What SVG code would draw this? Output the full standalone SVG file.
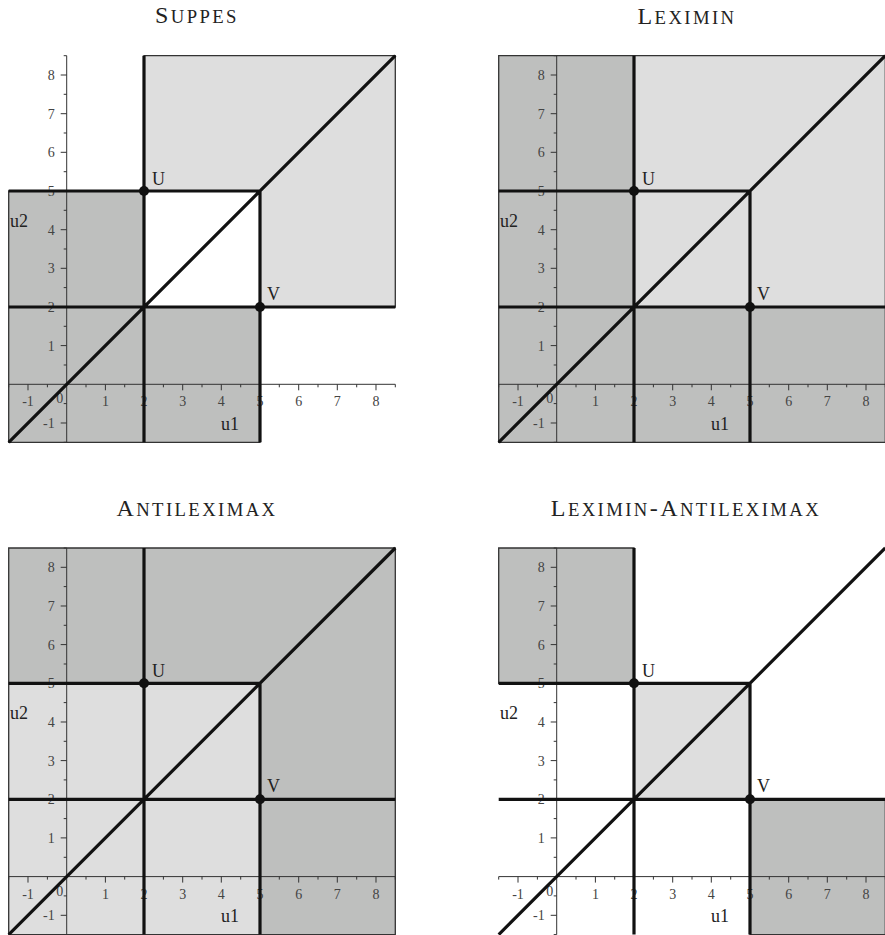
<svg xmlns="http://www.w3.org/2000/svg" width="885" height="935" viewBox="0 0 885 935">
<style>
.title{font-family:"Liberation Serif","Times New Roman",serif;font-size:24px;fill:#222;letter-spacing:2.4px;text-anchor:middle}
.sc{font-size:18.7px}
.dark{fill:#bebfbe;stroke:#333;stroke-width:1.3}
.light{fill:#dedede;stroke:#333;stroke-width:1.3}
.axis{fill:none;stroke:#333;stroke-width:1}
.thick{fill:none;stroke:#111;stroke-width:3.2}
.tk{font-family:"Liberation Serif","Times New Roman",serif;font-size:14px;fill:#444}
.tx{text-anchor:middle}
.ty{text-anchor:end}
.lbl{font-family:"Liberation Serif","Times New Roman",serif;font-size:18px;fill:#222}
.pt{fill:#111}
</style>
<rect width="885" height="935" fill="#fff"/>

<text class="title" x="197" y="23">S<tspan class="sc">UPPES</tspan></text>
<text class="title" x="687" y="24">L<tspan class="sc">EXIMIN</tspan></text>
<text class="title" x="197" y="516">A<tspan class="sc">NTILEXIMAX</tspan></text>
<text class="title" x="686" y="516">L<tspan class="sc">EXIMIN</tspan>-A<tspan class="sc">NTILEXIMAX</tspan></text>

<!-- Panel A: Suppes -->
<g id="suppes" transform="translate(66.7,384.3)">
  <g id="suppes-regions">
    <path class="light" d="M77.3,-328.6H328.6V-77.3H193.3V-193.3H77.3Z"/>
    <path class="dark" d="M-58,-193.3H77.3V-77.3H193.3V58H-58Z"/>
  </g>
  <g id="suppes-axes">
    <path class="axis" d="M-58,0H328.6M0,-328.6V58"/>
    <path class="axis" d="M-58,0v3M-38.7,0v6M-19.3,0v3M19.3,0v3M38.7,0v6M58,0v3M77.3,0v6M96.7,0v3M116,0v6M135.3,0v3M154.6,0v6M174,0v3M193.3,0v6M212.6,0v3M232,0v6M251.3,0v3M270.6,0v6M290,0v3M309.3,0v6M328.6,0v3"/>
    <path class="axis" d="M0,58h-3M0,38.7h-6M0,19.3h-3M0,-19.3h-3M0,-38.7h-6M0,-58h-3M0,-77.3h-6M0,-96.7h-3M0,-116h-6M0,-135.3h-3M0,-154.6h-6M0,-174h-3M0,-193.3h-6M0,-212.6h-3M0,-232h-6M0,-251.3h-3M0,-270.6h-6M0,-290h-3M0,-309.3h-6M0,-328.6h-3"/>
    <g class="tk tx">
      <text x="-38.7" y="22">-1</text><text x="-7" y="19">0</text><text x="38.7" y="22">1</text><text x="77.3" y="22">2</text><text x="116" y="22">3</text><text x="154.6" y="22">4</text><text x="193.3" y="22">5</text><text x="232" y="22">6</text><text x="270.6" y="22">7</text><text x="309.3" y="22">8</text>
    </g>
    <g class="tk ty">
      <text x="-12" y="43.7">-1</text><text x="-12" y="-33.7">1</text><text x="-12" y="-72.3">2</text><text x="-12" y="-111">3</text><text x="-12" y="-149.6">4</text><text x="-12" y="-188.3">5</text><text x="-12" y="-227">6</text><text x="-12" y="-265.6">7</text><text x="-12" y="-304.3">8</text>
    </g>
  </g>
  <g id="suppes-lines">
    <path class="thick" d="M77.3,-328.6V58M193.3,-193.3V58M-58,-193.3H193.3M-58,-77.3H328.6M-58,58L328.6,-328.6"/>
  </g>
  <g id="suppes-points">
    <circle class="pt" cx="77.3" cy="-193.3" r="5"/>
    <circle class="pt" cx="193.3" cy="-77.3" r="5"/>
    <text class="lbl" x="85.3" y="-199.3">U</text>
    <text class="lbl" x="200.3" y="-84.3">V</text>
    <text class="lbl" x="-56.7" y="-157.6">u2</text>
    <text class="lbl" x="154.3" y="45.7">u1</text>
  </g>
</g>

<!-- Panel B: Leximin -->
<g id="leximin" transform="translate(556.7,384.3)">
  <g id="leximin-regions">
    <path class="dark" d="M-58,-328.6H77.3V-77.3H328.6V58H-58Z"/>
    <path class="light" d="M77.3,-328.6H328.6V-77.3H77.3Z"/>
  </g>
  <g id="leximin-axes">
    <path class="axis" d="M-58,0H328.6M0,-328.6V58"/>
    <path class="axis" d="M-58,0v3M-38.7,0v6M-19.3,0v3M19.3,0v3M38.7,0v6M58,0v3M77.3,0v6M96.7,0v3M116,0v6M135.3,0v3M154.6,0v6M174,0v3M193.3,0v6M212.6,0v3M232,0v6M251.3,0v3M270.6,0v6M290,0v3M309.3,0v6M328.6,0v3"/>
    <path class="axis" d="M0,58h-3M0,38.7h-6M0,19.3h-3M0,-19.3h-3M0,-38.7h-6M0,-58h-3M0,-77.3h-6M0,-96.7h-3M0,-116h-6M0,-135.3h-3M0,-154.6h-6M0,-174h-3M0,-193.3h-6M0,-212.6h-3M0,-232h-6M0,-251.3h-3M0,-270.6h-6M0,-290h-3M0,-309.3h-6M0,-328.6h-3"/>
    <g class="tk tx">
      <text x="-38.7" y="22">-1</text><text x="-7" y="19">0</text><text x="38.7" y="22">1</text><text x="77.3" y="22">2</text><text x="116" y="22">3</text><text x="154.6" y="22">4</text><text x="193.3" y="22">5</text><text x="232" y="22">6</text><text x="270.6" y="22">7</text><text x="309.3" y="22">8</text>
    </g>
    <g class="tk ty">
      <text x="-12" y="43.7">-1</text><text x="-12" y="-33.7">1</text><text x="-12" y="-72.3">2</text><text x="-12" y="-111">3</text><text x="-12" y="-149.6">4</text><text x="-12" y="-188.3">5</text><text x="-12" y="-227">6</text><text x="-12" y="-265.6">7</text><text x="-12" y="-304.3">8</text>
    </g>
  </g>
  <g id="leximin-lines">
    <path class="thick" d="M77.3,-328.6V58M193.3,-193.3V58M-58,-193.3H193.3M-58,-77.3H328.6M-58,58L328.6,-328.6"/>
  </g>
  <g id="leximin-points">
    <circle class="pt" cx="77.3" cy="-193.3" r="5"/>
    <circle class="pt" cx="193.3" cy="-77.3" r="5"/>
    <text class="lbl" x="85.3" y="-199.3">U</text>
    <text class="lbl" x="200.3" y="-84.3">V</text>
    <text class="lbl" x="-56.7" y="-157.6">u2</text>
    <text class="lbl" x="154.3" y="45.7">u1</text>
  </g>
</g>

<!-- Panel C: Antileximax -->
<g id="antileximax" transform="translate(66.7,876.6)">
  <g id="antileximax-regions">
    <path class="light" d="M-58,-193.3H193.3V58H-58Z"/>
    <path class="dark" d="M-58,-328.6H328.6V58H193.3V-193.3H-58Z"/>
  </g>
  <g id="antileximax-axes">
    <path class="axis" d="M-58,0H328.6M0,-328.6V58"/>
    <path class="axis" d="M-58,0v3M-38.7,0v6M-19.3,0v3M19.3,0v3M38.7,0v6M58,0v3M77.3,0v6M96.7,0v3M116,0v6M135.3,0v3M154.6,0v6M174,0v3M193.3,0v6M212.6,0v3M232,0v6M251.3,0v3M270.6,0v6M290,0v3M309.3,0v6M328.6,0v3"/>
    <path class="axis" d="M0,58h-3M0,38.7h-6M0,19.3h-3M0,-19.3h-3M0,-38.7h-6M0,-58h-3M0,-77.3h-6M0,-96.7h-3M0,-116h-6M0,-135.3h-3M0,-154.6h-6M0,-174h-3M0,-193.3h-6M0,-212.6h-3M0,-232h-6M0,-251.3h-3M0,-270.6h-6M0,-290h-3M0,-309.3h-6M0,-328.6h-3"/>
    <g class="tk tx">
      <text x="-38.7" y="22">-1</text><text x="-7" y="19">0</text><text x="38.7" y="22">1</text><text x="77.3" y="22">2</text><text x="116" y="22">3</text><text x="154.6" y="22">4</text><text x="193.3" y="22">5</text><text x="232" y="22">6</text><text x="270.6" y="22">7</text><text x="309.3" y="22">8</text>
    </g>
    <g class="tk ty">
      <text x="-12" y="43.7">-1</text><text x="-12" y="-33.7">1</text><text x="-12" y="-72.3">2</text><text x="-12" y="-111">3</text><text x="-12" y="-149.6">4</text><text x="-12" y="-188.3">5</text><text x="-12" y="-227">6</text><text x="-12" y="-265.6">7</text><text x="-12" y="-304.3">8</text>
    </g>
  </g>
  <g id="antileximax-lines">
    <path class="thick" d="M77.3,-328.6V58M193.3,-193.3V58M-58,-193.3H193.3M-58,-77.3H328.6M-58,58L328.6,-328.6"/>
  </g>
  <g id="antileximax-points">
    <circle class="pt" cx="77.3" cy="-193.3" r="5"/>
    <circle class="pt" cx="193.3" cy="-77.3" r="5"/>
    <text class="lbl" x="85.3" y="-199.3">U</text>
    <text class="lbl" x="200.3" y="-84.3">V</text>
    <text class="lbl" x="-56.7" y="-157.6">u2</text>
    <text class="lbl" x="154.3" y="45.7">u1</text>
  </g>
</g>

<!-- Panel D: Leximin-Antileximax -->
<g id="leximin-antileximax" transform="translate(556.7,876.6)">
  <g id="leximin-antileximax-regions">
    <path class="dark" d="M-58,-328.6H77.3V-193.3H-58Z"/>
    <path class="dark" d="M193.3,-77.3H328.6V58H193.3Z"/>
    <path class="light" d="M77.3,-193.3H193.3V-77.3H77.3Z"/>
  </g>
  <g id="leximin-antileximax-axes">
    <path class="axis" d="M-58,0H328.6M0,-328.6V58"/>
    <path class="axis" d="M-58,0v3M-38.7,0v6M-19.3,0v3M19.3,0v3M38.7,0v6M58,0v3M77.3,0v6M96.7,0v3M116,0v6M135.3,0v3M154.6,0v6M174,0v3M193.3,0v6M212.6,0v3M232,0v6M251.3,0v3M270.6,0v6M290,0v3M309.3,0v6M328.6,0v3"/>
    <path class="axis" d="M0,58h-3M0,38.7h-6M0,19.3h-3M0,-19.3h-3M0,-38.7h-6M0,-58h-3M0,-77.3h-6M0,-96.7h-3M0,-116h-6M0,-135.3h-3M0,-154.6h-6M0,-174h-3M0,-193.3h-6M0,-212.6h-3M0,-232h-6M0,-251.3h-3M0,-270.6h-6M0,-290h-3M0,-309.3h-6M0,-328.6h-3"/>
    <g class="tk tx">
      <text x="-38.7" y="22">-1</text><text x="-7" y="19">0</text><text x="38.7" y="22">1</text><text x="77.3" y="22">2</text><text x="116" y="22">3</text><text x="154.6" y="22">4</text><text x="193.3" y="22">5</text><text x="232" y="22">6</text><text x="270.6" y="22">7</text><text x="309.3" y="22">8</text>
    </g>
    <g class="tk ty">
      <text x="-12" y="43.7">-1</text><text x="-12" y="-33.7">1</text><text x="-12" y="-72.3">2</text><text x="-12" y="-111">3</text><text x="-12" y="-149.6">4</text><text x="-12" y="-188.3">5</text><text x="-12" y="-227">6</text><text x="-12" y="-265.6">7</text><text x="-12" y="-304.3">8</text>
    </g>
  </g>
  <g id="leximin-antileximax-lines">
    <path class="thick" d="M77.3,-328.6V58M193.3,-193.3V58M-58,-193.3H193.3M-58,-77.3H328.6M-58,58L328.6,-328.6"/>
  </g>
  <g id="leximin-antileximax-points">
    <circle class="pt" cx="77.3" cy="-193.3" r="5"/>
    <circle class="pt" cx="193.3" cy="-77.3" r="5"/>
    <text class="lbl" x="85.3" y="-199.3">U</text>
    <text class="lbl" x="200.3" y="-84.3">V</text>
    <text class="lbl" x="-56.7" y="-157.6">u2</text>
    <text class="lbl" x="154.3" y="45.7">u1</text>
  </g>
</g>
</svg>
